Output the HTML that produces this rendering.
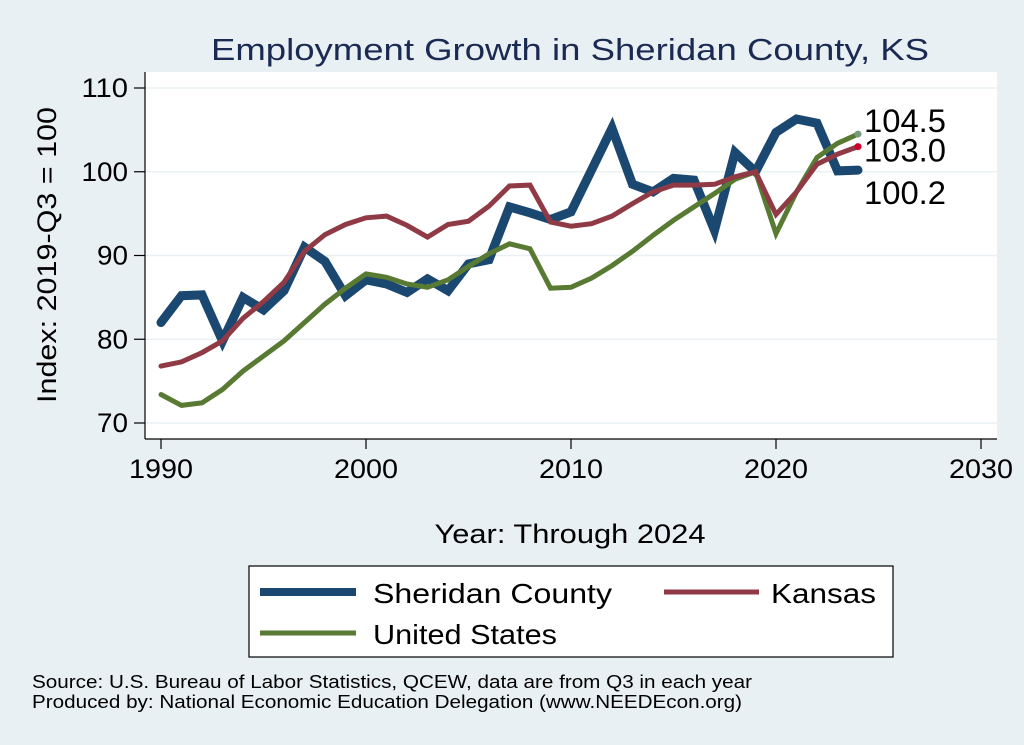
<!DOCTYPE html>
<html><head><meta charset="utf-8"><style>
body{margin:0;background:#e9f0f3;}
svg{display:block;font-family:"Liberation Sans",Arial,sans-serif;}
</style></head><body>
<svg id="chart" width="1024" height="745">
<rect x="0" y="0" width="1024" height="745" fill="#e9f0f3"/>
<rect x="145" y="72" width="852" height="367" fill="#ffffff"/>
<text x="570" y="60" font-size="31" fill="#1b2a52" text-anchor="middle" textLength="718" lengthAdjust="spacingAndGlyphs">Employment Growth in Sheridan County, KS</text>
<g id="grid"></g>
<g id="axes"></g>
<g id="series"></g>
<text transform="translate(56,255) rotate(-90)" font-size="27" text-anchor="middle" fill="#000" textLength="296" lengthAdjust="spacingAndGlyphs">Index: 2019-Q3 = 100</text>
<text x="570" y="543" font-size="27" text-anchor="middle" fill="#000" textLength="271" lengthAdjust="spacingAndGlyphs">Year: Through 2024</text>
<g>
<rect x="249" y="566" width="644" height="91" fill="#fff" stroke="#000" stroke-width="1.2"/>
<line x1="260" y1="592" x2="356" y2="592" stroke="#1a4870" stroke-width="8"/>
<text x="373" y="603" font-size="28" textLength="239" lengthAdjust="spacingAndGlyphs">Sheridan  County</text>
<line x1="664" y1="592" x2="759" y2="592" stroke="#8f3a44" stroke-width="5"/>
<text x="771" y="603" font-size="28" textLength="105" lengthAdjust="spacingAndGlyphs">Kansas</text>
<line x1="260" y1="633" x2="356" y2="633" stroke="#587a32" stroke-width="5"/>
<text x="373" y="644" font-size="28" textLength="184" lengthAdjust="spacingAndGlyphs">United States</text>
</g>
<text x="32" y="688" font-size="18" textLength="720" lengthAdjust="spacingAndGlyphs">Source: U.S. Bureau of Labor Statistics, QCEW, data are from Q3 in each year</text>
<text x="32" y="708" font-size="18" textLength="710" lengthAdjust="spacingAndGlyphs">Produced by: National Economic Education Delegation (www.NEEDEcon.org)</text>
</svg>
<script>
const years = [1990,1991,1992,1993,1994,1995,1996,1997,1998,1999,2000,2001,2002,2003,2004,2005,2006,2007,2008,2009,2010,2011,2012,2013,2014,2015,2016,2017,2018,2019,2020,2021,2022,2023,2024];
const sheridan = [82,85.2,85.3,79.8,85,83.5,85.8,91,89.3,85.2,87.1,86.6,85.6,87.2,85.8,89,89.5,95.8,95.1,94.3,95.2,100.2,105.2,98.5,97.6,99.2,99,93,102.3,100,104.7,106.3,105.8,100.1,100.2];
const kansas = [76.8,77.3,78.4,79.8,82.5,84.5,86.8,90.5,92.5,93.7,94.5,94.7,93.6,92.2,93.7,94.1,95.9,98.3,98.4,94,93.5,93.8,94.7,96.2,97.6,98.4,98.4,98.5,99.4,100,94.9,97.6,100.9,102.1,103.0];
const us = [73.4,72.1,72.4,74,76.2,78,79.8,82,84.2,86.1,87.8,87.4,86.6,86.2,87.1,88.7,90.2,91.4,90.8,86.1,86.2,87.3,88.8,90.5,92.4,94.2,95.8,97.4,99.1,100,92.6,97.6,101.7,103.4,104.5];
const xTicks = [1990,2000,2010,2020,2030];
const yTicks = [70,80,90,100,110];
const endLabels = ["100.2","103.0","104.5"];

const NS="http://www.w3.org/2000/svg";
const X = v => 161 + (v-1990)*(981-161)/40;
const Y = v => 423 - (v-70)*(423-88)/40;
function mk(tag, attrs, parent){const e=document.createElementNS(NS,tag);for(const k in attrs)e.setAttribute(k,attrs[k]);parent.appendChild(e);return e;}
const grid=document.getElementById('grid'), axes=document.getElementById('axes'), ser=document.getElementById('series');
yTicks.forEach(t=>{
  const g=mk('line',{x1:145,x2:997,y1:Y(t),y2:Y(t),stroke:'#eaf0f3','stroke-width':1.5},grid);
  
  
  const tk=mk('line',{x1:134,x2:145,y1:Y(t),y2:Y(t),stroke:'#000','stroke-width':1.2},axes);
  
  
  const lb=mk('text',{x:128,y:Y(t)+9,'font-size':27,'text-anchor':'end',textLength:String(t).length*15.5,lengthAdjust:'spacingAndGlyphs'},axes);
  lb.textContent=t;
  
  
});
xTicks.forEach(t=>{
  const tk=mk('line',{x1:X(t),x2:X(t),y1:439,y2:449,stroke:'#000','stroke-width':1.2},axes);
  
  
  const lb=mk('text',{x:X(t),y:478,'font-size':27,'text-anchor':'middle',textLength:64,lengthAdjust:'spacingAndGlyphs'},axes);
  lb.textContent=t;
  
  
});
const ya=mk('line',{x1:145,x2:145,y1:72,y2:439,stroke:'#000','stroke-width':1.2},axes);


const xa=mk('line',{x1:145,x2:997,y1:439,y2:439,stroke:'#000','stroke-width':1.2},axes);


function line(vals,color,w,name){
  const d=vals.map((v,i)=>(i?'L':'M')+X(years[i]).toFixed(1)+','+Y(v).toFixed(1)).join('');
  const p=mk('path',{d:d,fill:'none',stroke:color,'stroke-width':w,'stroke-linejoin':'miter','stroke-linecap':'round'},ser);
  
  
}
line(sheridan,'#1a4870',9,'line-sheridan');
line(us,'#587a32',5,'line-us');
line(kansas,'#8f3a44',5,'line-kansas');
const n=years.length-1;
const dk=mk('circle',{cx:X(years[n]),cy:Y(kansas[n]),r:3.5,fill:'#d0002a'},ser);


const du=mk('circle',{cx:X(years[n]),cy:Y(us[n]),r:3.5,fill:'#7a9a80'},ser);


const l1=mk('text',{x:864,y:Y(sheridan[n])+34,'font-size':32,textLength:82,lengthAdjust:'spacingAndGlyphs'},ser);
l1.textContent=endLabels[0];



const l2=mk('text',{x:864,y:Y(kansas[n])+15,'font-size':32,textLength:82,lengthAdjust:'spacingAndGlyphs'},ser);
l2.textContent=endLabels[1];


const l3=mk('text',{x:864,y:Y(us[n])-2,'font-size':32,textLength:82,lengthAdjust:'spacingAndGlyphs'},ser);
l3.textContent=endLabels[2];


</script>
</body></html>
